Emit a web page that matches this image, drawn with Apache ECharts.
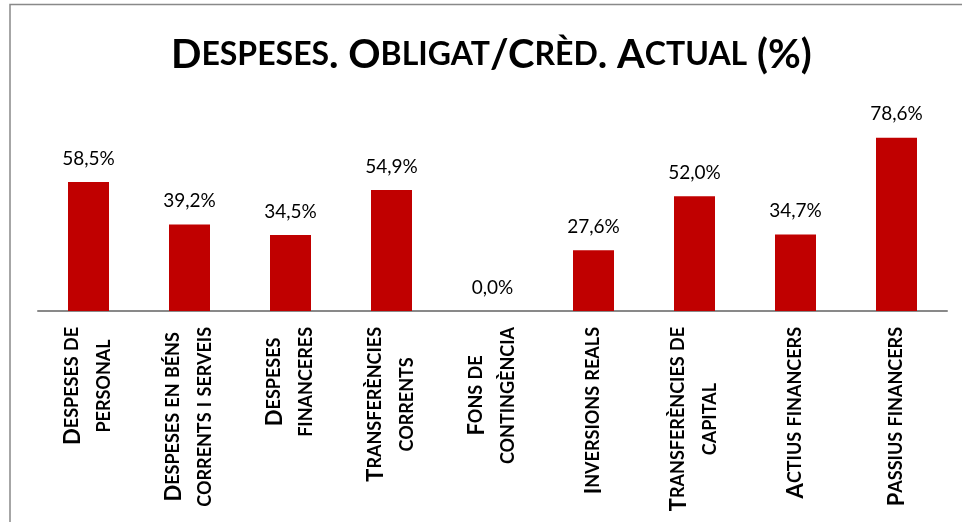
<!DOCTYPE html>
<html>
<head>
<meta charset="utf-8">
<script src="https://cdn.jsdelivr.net/npm/echarts@6/dist/echarts.min.js"></script>
<style>
  html, body { margin: 0; padding: 0; background: #fff; }
  #chart { width: 962px; height: 522px; }
</style>
</head>
<body>
<div id="chart"></div>
<script>
// dades del gràfic
var titleText = 'Despeses. Obligat/Crèd. Actual (%)';
var categories = [
    'Despeses de\npersonal',
    'Despeses en béns\ncorrents i serveis',
    'Despeses\nfinanceres',
    'Transferències\ncorrents',
    'Fons de\ncontingència',
    'Inversions reals',
    'Transferències de\ncapital',
    'Actius financers',
    'Passius financers'
];
var values = [58.5, 39.2, 34.5, 54.9, 0.0, 27.6, 52.0, 34.7, 78.6];

var FONT = 'Lato, "Open Sans", sans-serif';

// versaletes: majúscules grans, minúscules -> majúscules petites
function smallCaps(str, big, small) {
    return str.split('\n').map(function (line) {
        var out = '', buf = '', cur = null;
        for (var i = 0; i < line.length; i++) {
            var ch = line[i];
            var type = (ch !== ch.toUpperCase()) ? small : big;
            if (type !== cur && buf) {
                out += '{' + cur + '|' + buf + '}';
                buf = '';
            }
            cur = type;
            buf += ch.toUpperCase();
        }
        if (buf) out += '{' + cur + '|' + buf + '}';
        return out;
    }).join('\n');
}

var myChart = echarts.init(document.getElementById('chart'));

var option = {
    animation: false,
    backgroundColor: '#fff',
    title: {
        text: smallCaps(titleText, 'tb', 'ts'),
        left: 171,
        top: 35,
        padding: 0,
        textStyle: {
            rich: {
                tb: { fontFamily: FONT, fontSize: 40, fontWeight: 'bold', color: '#000' },
                ts: { fontFamily: FONT, fontSize: 32, fontWeight: 'bold', color: '#000' }
            }
        }
    },
    graphic: [{
        type: 'rect',
        z: -1,
        shape: { x: 10, y: 4.5, width: 1000, height: 600 },
        style: { fill: 'none', stroke: '#898989', lineWidth: 1.5 }
    }],
    grid: {
        left: 38,
        right: 15,
        top: 112.5,
        bottom: 211
    },
    xAxis: {
        type: 'category',
        data: categories,
        axisTick: { show: false },
        axisLine: { lineStyle: { color: '#898989', width: 2 } },
        axisLabel: {
            interval: 0,
            rotate: 90,
            margin: 16,
            formatter: function (v) { return smallCaps(v, 'b', 's'); },
            rich: {
                b: { fontFamily: FONT, fontSize: 22, fontWeight: 'bold', color: '#000', align: 'center', lineHeight: 32 },
                s: { fontFamily: FONT, fontSize: 18, fontWeight: 'bold', color: '#000', align: 'center', lineHeight: 32 }
            }
        }
    },
    yAxis: {
        type: 'value',
        show: false,
        min: 0,
        max: 90,
        splitLine: { show: false }
    },
    series: [{
        type: 'bar',
        data: values,
        barWidth: 41,
        itemStyle: { color: '#C00000' },
        label: {
            show: true,
            position: 'top',
            distance: 14,
            fontFamily: FONT,
            fontSize: 19,
            color: '#000',
            formatter: function (p) {
                return p.value.toFixed(1).replace('.', ',') + '%';
            }
        }
    }]
};
myChart.setOption(option);
</script>
</body>
</html>
